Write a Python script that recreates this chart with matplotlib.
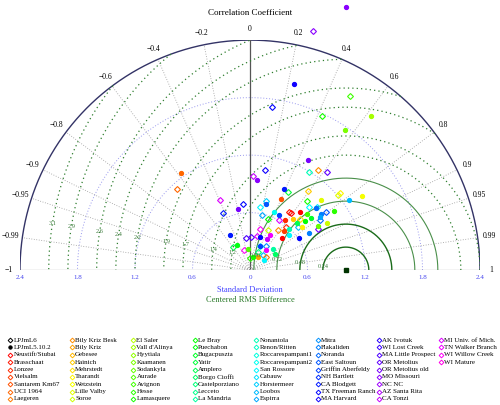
import numpy as np
import matplotlib
matplotlib.use("Agg")
import matplotlib.pyplot as plt
from matplotlib.colors import hsv_to_rgb

plt.rcParams['font.family'] = ['Liberation Serif', 'DejaVu Serif']

sites = ["Neustift/Stubai", "Brasschaat", "Lonzee", "Vielsalm", "Santarem Km67", "UCI 1964", "Laegeren",
         "Bily Kriz Besk", "Bily Kriz", "Gebesee", "Hainich", "Mehrstedt", "Tharandt", "Wetzstein", "Lille Valby", "Soroe",
         "El Saler", "Vall d'Alinya", "Hyytiala", "Kaamanen", "Sodankyla", "Aurade", "Avignon", "Hesse", "Lamasquere",
         "Le Bray", "Puechabon", "Bugacpuszta", "Yatir", "Amplero", "Borgo Cioffi", "Castelporziano", "Lecceto", "La Mandria",
         "Nonantola", "Renon/Ritten", "Roccarespampani1", "Roccarespampani2", "San Rossore", "Cabauw", "Horstermeer", "Loobos", "Espirra",
         "Mitra", "Flakaliden", "Noranda", "East Saltoun", "Griffin Aberfeldy", "NH Bartlett", "CA Blodgett", "TX Freeman Ranch", "MA Harvard",
         "AK Ivotuk", "WI Lost Creek", "MA Little Prospect", "OR Metolius", "OR Metolius old", "MO Missouri", "NC NC", "AZ Santa Rita", "CA Tonzi",
         "MI Univ. of Mich.", "TN Walker Branch", "WI Willow Creek", "WI Mature"]

# LPJmL5.10.2 (filled circles): x/y components in standard-deviation units, and site index
l5_x = [1.00, 0.46, 1.26, 0.99, 0.61, -0.72, 0.07, 0.35, 0.32, 0.74, 1.17, 1.03, 0.17, -0.13, 0.25, 0.30, 0.52,
        0.59, 0.74, 0.88, 0.36, 0.45, 0.57, 0.73, 0.80, 0.71, 0.49, -0.21, 0.10, 0.21, 0.33, 0.41, 0.51, 0.62,
        -0.14, -0.02, 0.17, 0.24, 0.15, 0.26, 0.08, 0.03, 0.10, 0.35, 0.41, 0.54, 0.18, 0.64, 0.69]
l5_y = [2.75, 1.94, 1.61, 1.46, 1.15, 1.01, 0.94, 0.85, 0.74, 0.73, 0.77, 0.73, 0.69, 0.64, 0.61, 0.58, 0.61,
        0.59, 0.59, 0.62, 0.52, 0.53, 0.51, 0.55, 0.49, 0.46, 0.49, 0.37, 0.35, 0.37, 0.34, 0.37, 0.33, 0.39,
        0.26, 0.22, 0.21, 0.22, 0.11, 0.17, 0.14, 0.14, 0.25, 0.41, 0.43, 0.45, 0.32, 0.54, 0.65]
l5_site = [57, 51, 17, 19, 56, 5, 57, 49, 4, 14, 13, 41, 46, 56, 37, 47, 0,
           22, 44, 23, 2, 10, 25, 42, 15, 20, 29, 49, 50, 62, 0, 38, 50, 44,
           26, 21, 62, 33, 38, 30, 8, 24, 47, 3, 34, 12, 60, 27, 45]

# LPJmL6 (open diamonds)
l6_x = [0.66, 1.04, 0.23, 0.75, 0.16, 0.03, 0.62, 0.71, 0.80, -0.76, 0.40, 0.61, 0.94, 0.92, -0.31, -0.07, -0.28,
        0.17, 0.59, 0.62, 0.70, 0.79, 0.43, 0.12, 0.19, 0.10, 0.30, 0.73, 0.52, 0.10, 0.19, 0.29, 0.38, 0.50,
        0.71, -0.04, 0.01, 0.10, 0.17, 0.07, -0.18, -0.06, 0.08, 0.14, 0.00, 0.17, 0.41]
l6_y = [2.50, 1.82, 1.70, 1.61, 1.04, 0.98, 1.02, 1.04, 1.02, 0.85, 0.82, 0.83, 0.80, 0.78, 0.73, 0.69, 0.60,
        0.72, 0.72, 0.66, 0.66, 0.61, 0.60, 0.58, 0.53, 0.66, 0.52, 0.52, 0.53, 0.43, 0.42, 0.42, 0.45, 0.45,
        0.43, 0.34, 0.35, 0.25, 0.25, 0.36, 0.24, 0.21, 0.19, 0.16, 0.13, 0.14, 0.61]
l6_site = [57, 22, 50, 24, 51, 60, 34, 7, 55, 5, 28, 10, 12, 14, 61, 50, 49,
           40, 24, 38, 39, 46, 0, 42, 25, 38, 61, 45, 11, 63, 15, 7, 2, 41,
           56, 54, 54, 36, 43, 61, 29, 63, 31, 41, 23, 6, 1]

ref_std = 1.0
corr_ticks = [-0.99, -0.95, -0.9, -0.8, -0.6, -0.4, -0.2, 0, 0.2, 0.4, 0.6, 0.8, 0.9, 0.95, 0.99]
corr_labels = ["\u22120.99", "\u22120.95", "\u22120.9", "\u22120.8", "\u22120.6", "\u22120.4", "\u22120.2", "0",
               "0.2", "0.4", "0.6", "0.8", "0.9", "0.95", "0.99"]
std_ticks = [-2.4, -1.8, -1.2, -0.6, 0, 0.6, 1.2, 1.8, 2.4]
std_labels = ["2.4", "1.8", "1.2", "0.6", "0", "0.6", "1.2", "1.8", "2.4"]
rms_levels = [0.24, 0.48, 0.72, 0.96, 1.2, 1.4, 1.7, 1.9, 2.2, 2.4, 2.6, 2.9, 3.1, 3.4]

site_colors = [hsv_to_rgb((h, 1, 1)) for h in np.linspace(0, 0.85, len(sites))]

fig = plt.figure(figsize=(5, 4.05), dpi=100)
ax = fig.add_axes([0.04, 0.333, 0.92, 0.568])
ax.set_xlim(-2.4, 2.4)
ax.set_ylim(0, 2.4)
ax.set_aspect('equal')
ax.axis('off')

R = 2.4
t = np.linspace(0, np.pi, 400)
for r in [0.6, 1.2, 1.8]:
    ax.plot(r*np.cos(t), r*np.sin(t), color='#9999ee', lw=0.7, ls=(0, (1, 2)))
ax.plot(R*np.cos(t), R*np.sin(t), color='#333366', lw=1.0)
ax.plot([-R, R], [0, 0], color='#333333', lw=0.8)
for c in corr_ticks:
    a = np.arccos(c)
    if c == 0:
        ax.plot([0, 0], [0, R], color='#555555', lw=0.9)
    else:
        ax.plot([0, R*np.cos(a)], [0, R*np.sin(a)], color='#999999', lw=0.6, ls=(0, (1, 2)))
for c, lab in zip(corr_ticks, corr_labels):
    a = np.arccos(c)
    rr = 2.52
    ax.text(rr*np.cos(a), rr*np.sin(a), lab, fontsize=5.5, ha='center', va='center', clip_on=False)
ax.text(-2.52, 0.0, "\u22121", fontsize=5.5, ha='center', va='center')
ax.text(2.52, 0.0, "1", fontsize=5.5, ha='center', va='center')
tt = np.linspace(0, 2*np.pi, 1000)
for i, r in enumerate(rms_levels):
    x = ref_std + r*np.cos(tt)
    y = r*np.sin(tt)
    m = (x**2 + y**2 <= R**2) & (y >= 0)
    x = np.where(m, x, np.nan); y = np.where(m, y, np.nan)
    if i < 2:
        ax.plot(x, y, color='#1a6b1a', lw=1.0)
    elif i < 4:
        ax.plot(x, y, color='#4a8f4a', lw=0.8)
    else:
        ax.plot(x, y, color='#2f7f2f', lw=0.9, ls=(0, (1, 2.5)))
    la = np.deg2rad(171)
    lx, ly = ref_std + r*np.cos(la), r*np.sin(la)
    if lx**2 + ly**2 < R**2:
        ax.text(lx, ly, f"{r:g}", fontsize=4.5, color='#3a7a3a', ha='center', va='center')
for v, lab in zip(std_ticks, std_labels):
    ax.text(v, -0.08, lab, fontsize=5, color='#4444ee', ha='center', va='center', clip_on=False)
fig.text(0.5, 0.283, "Standard Deviation", color='#4444ff', fontsize=6, ha='center', va='center')
fig.text(0.5, 0.259, "Centered RMS Difference", color='#2a7a2a', fontsize=6, ha='center', va='center')
fig.text(0.5, 0.968, "Correlation Coefficient", fontsize=6.5, ha='center', va='center')

for x, y, s in zip(l6_x, l6_y, l6_site):
    ax.plot(x, y, marker='D', ms=3.0, mfc='none', mec=site_colors[s], mew=0.8, clip_on=False)
for x, y, s in zip(l5_x, l5_y, l5_site):
    ax.plot(x, y, marker='o', ms=2.8, mfc=site_colors[s], mec=site_colors[s], lw=0, clip_on=False)
ax.plot(ref_std, 0, marker='s', ms=3.5, color='#003300', clip_on=False)

lax = fig.add_axes([0, 0, 1, 0.18])
lax.set_xlim(0, 500); lax.set_ylim(0, 72.9)
lax.axis('off')
entries = [("LPJmL6", 'D', 'none', 'black'), ("LPJmL5.10.2", 'o', 'black', 'black')]
entries += [(n, 'D', 'none', site_colors[i]) for i, n in enumerate(sites)]
for k, (name, mk, fc, ec) in enumerate(entries):
    col, row = divmod(k, 9)
    x0 = 10 + col*61.5
    y0 = 72.9 - (339 - 332 + row*7.35) - 1
    lax.plot(x0, y0, marker=mk, ms=2.4, mfc=fc, mec=ec, mew=0.7)
    lax.text(x0 + 3.5, y0, name, fontsize=5.0, va='center', ha='left')

fig.savefig("out.png", dpi=100)
